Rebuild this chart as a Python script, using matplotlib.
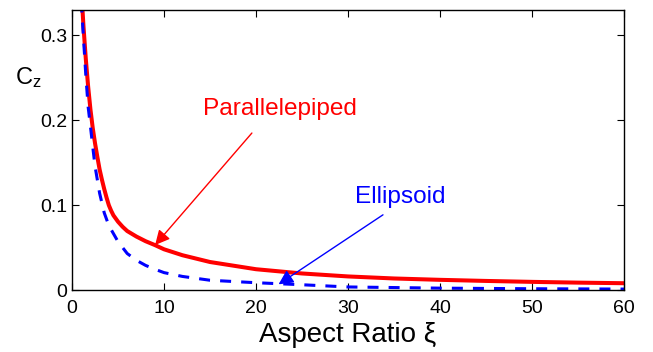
import matplotlib
matplotlib.use("Agg")
import matplotlib.pyplot as plt

plt.rcParams['font.family'] = ['Liberation Sans', 'DejaVu Sans']
plt.rcParams['mathtext.fontset'] = 'custom'
plt.rcParams['mathtext.rm'] = 'Liberation Sans'
plt.rcParams['mathtext.it'] = 'Liberation Sans:italic'

# parallelepiped
xi_par = [1, 1.25, 1.5, 1.75, 2, 2.25, 2.5, 2.75, 3, 3.25, 3.5, 3.75, 4, 4.25,
          4.5, 5, 5.5, 6, 7, 8, 9, 10, 12, 15, 20, 25, 30, 35, 40, 45, 50, 55,
          60]
cz_par = [0.355, 0.31, 0.272, 0.24, 0.213, 0.191, 0.173, 0.157, 0.142, 0.13,
          0.119, 0.109, 0.1, 0.0935, 0.088, 0.0805, 0.0745, 0.0695, 0.063,
          0.0575, 0.053, 0.048, 0.041, 0.033, 0.0245, 0.0195, 0.016, 0.0136,
          0.012, 0.0107, 0.0096, 0.0087, 0.008]

# ellipsoid
xi_ell = [1, 1.25, 1.5, 1.75, 2, 2.25, 2.5, 3, 3.5, 4, 5, 6, 7, 8, 9, 10, 12,
          15, 20, 25, 30, 40, 50, 60]
cz_ell = [0.34, 0.296, 0.253, 0.216, 0.193, 0.169, 0.146, 0.114, 0.091, 0.076,
          0.057, 0.043, 0.035, 0.029, 0.0245, 0.0205, 0.016, 0.0115, 0.0086,
          0.0062, 0.0036, 0.0022, 0.0015, 0.0011]

xticks = [0, 10, 20, 30, 40, 50, 60]
yticks = [0, 0.1, 0.2, 0.3]

fig = plt.figure(figsize=(6.53, 3.52), dpi=100)
ax = fig.add_axes([0.1103, 0.1761, 0.8453, 0.7955])

ax.plot(xi_par, cz_par, color='red', lw=2.9, solid_capstyle='butt')
ax.plot(xi_ell, cz_ell, color='blue', lw=2.2, dashes=(3.6, 3.3))

ax.set_xlim(0, 60)
ax.set_ylim(0, 0.33)
ax.set_xticks(xticks)
ax.set_yticks(yticks)
ax.set_yticklabels(['0', '0.1', '0.2', '0.3'])
ax.tick_params(direction='in', length=5, width=0.8, top=True, right=True,
               labelsize=14)
ax.tick_params(axis='x', pad=7)
ax.tick_params(axis='y', pad=3.5)
for s in ax.spines.values():
    s.set_linewidth(1.0)

ax.set_xlabel('Aspect Ratio \u03be', fontsize=20, labelpad=4)
ax.text(-0.103, 0.757, 'C$_\\mathrm{z}$', transform=ax.transAxes, fontsize=17,
        ha='left', va='center')

# labels and arrows
ax.text(22.6, 0.2067, 'Parallelepiped', color='red', fontsize=17.6,
        ha='center', va='baseline')
ax.annotate('', xy=(9.03, 0.053), xytext=(19.55, 0.185),
            arrowprops=dict(arrowstyle='-|>', color='red', lw=1,
                            mutation_scale=22, shrinkA=0, shrinkB=0))
ax.text(35.7, 0.1024, 'Ellipsoid', color='blue', fontsize=17.6,
        ha='center', va='baseline')
ax.annotate('', xy=(22.45, 0.0067), xytext=(33.8, 0.0886),
            arrowprops=dict(arrowstyle='-|>', color='blue', lw=1,
                            mutation_scale=22, shrinkA=0, shrinkB=0))

fig.savefig('out.png', dpi=100)
